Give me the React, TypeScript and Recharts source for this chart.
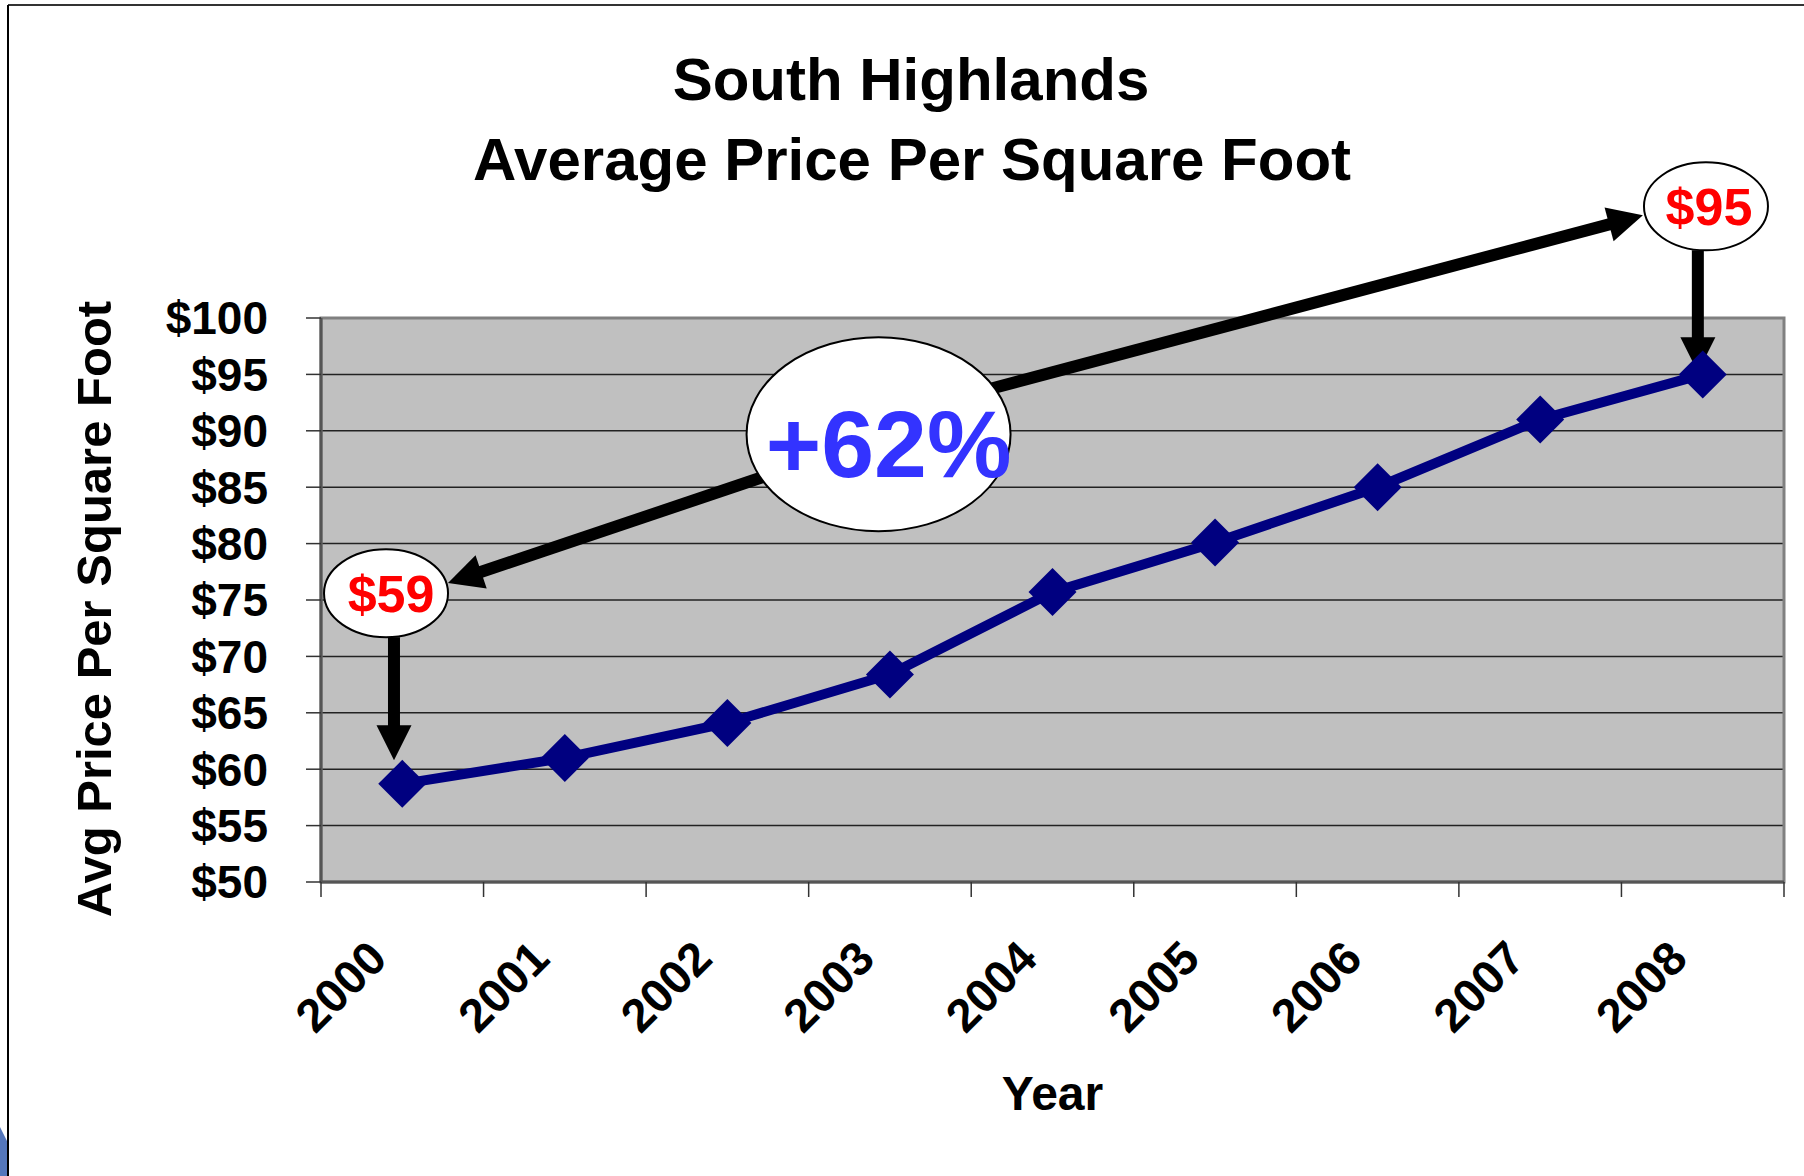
import React from "react";
import {
  LineChart,
  Line,
  XAxis,
  YAxis,
  CartesianGrid,
  ReferenceArea,
  ReferenceLine,
  ReferenceDot,
  Label,
} from "recharts";

const years = ["2000", "2001", "2002", "2003", "2004", "2005", "2006", "2007", "2008"];
const prices = [58.7, 61.0, 64.1, 68.4, 75.7, 80.1, 85.0, 91.0, 95.0];
const priceTicks = [50, 55, 60, 65, 70, 75, 80, 85, 90, 95, 100];

// callout bubbles, anchored in data space (x = year index, y = price)
const bubbleTexts = ["$59", "+62%", "$95"];
const bubbleAnchors = [
  { x: -0.1, y: 75.6 },
  { x: 2.93, y: 89.7 },
  { x: 8.02, y: 109.9 },
];

// arrows, also in data space
const arrowSegments = [
  [{ x: 2.26, y: 86.1 }, { x: 0.281, y: 76.5 }],
  [{ x: 3.585, y: 93.6 }, { x: 7.632, y: 109.1 }],
  [{ x: -0.051, y: 71.7 }, { x: -0.051, y: 60.8 }],
  [{ x: 7.97, y: 106.0 }, { x: 7.97, y: 95.2 }],
];

const rows = years.map((year, i) => ({ idx: i, year, price: prices[i] }));
const yearTicks = years.map((_, i) => i);
const boundaryTicks = [...years.map((_, i) => i - 0.5), years.length - 0.5];
const xDomain = [-0.5, years.length - 0.5];

const FONT = "'Liberation Sans', Arial, Helvetica, sans-serif";
const W = 1804;
const H = 1176;

const Diamond = (p: any) => {
  const { cx, cy, index } = p;
  if (cx == null || cy == null) return <g key={index} />;
  const r = 24;
  return (
    <polygon
      key={index}
      points={`${cx},${cy - r} ${cx + r},${cy} ${cx},${cy + r} ${cx - r},${cy}`}
      fill="#000080"
    />
  );
};

const Arrow = (p: any) => {
  const { x1, y1, x2, y2 } = p;
  const dx = x2 - x1;
  const dy = y2 - y1;
  const len = Math.hypot(dx, dy) || 1;
  const ux = dx / len;
  const uy = dy / len;
  const nx = -uy;
  const ny = ux;
  const headL = 35;
  const headW = 17.5;
  const bx = x2 - ux * headL;
  const by = y2 - uy * headL;
  return (
    <g>
      <line x1={x1} y1={y1} x2={bx + ux * 2} y2={by + uy * 2} stroke="#000" strokeWidth={12} />
      <polygon
        points={`${x2},${y2} ${bx + nx * headW},${by + ny * headW} ${bx - nx * headW},${by - ny * headW}`}
        fill="#000"
      />
    </g>
  );
};

const makeBubble = (text: string, rx: number, ry: number, size: number, color: string, dx: number, dy: number) =>
  (p: any) => {
    const { cx, cy } = p;
    return (
      <g>
        <ellipse cx={cx} cy={cy} rx={rx} ry={ry} fill="#fff" stroke="#000" strokeWidth={2} />
        <text
          x={cx + dx}
          y={cy + size * 0.36 + dy}
          textAnchor="middle"
          fontFamily={FONT}
          fontWeight="bold"
          fontSize={size}
          fill={color}
        >
          {text}
        </text>
      </g>
    );
  };

const bubbleShapes = [
  makeBubble(bubbleTexts[0], 62, 44, 52, "#FF0000", 5, 0),
  makeBubble(bubbleTexts[1], 132, 97, 95, "#3333FF", 10, 9),
  makeBubble(bubbleTexts[2], 62, 44, 52, "#FF0000", 3, 0),
];

const YearTick = (p: any) => {
  const { x, y, payload } = p;
  const tx = x - 13;
  const ty = y + 64;
  return (
    <text
      x={tx}
      y={ty}
      textAnchor="end"
      transform={`rotate(-45 ${tx} ${ty})`}
      fontFamily={FONT}
      fontWeight="bold"
      fontSize={47}
      fill="#000"
    >
      {years[payload.value]}
    </text>
  );
};

export default function App() {
  return (
    <div style={{ position: "absolute", left: 0, top: 0, width: W, height: H, background: "#fff", overflow: "hidden" }}>
      <svg width={W} height={H} style={{ position: "absolute", left: 0, top: 0 }}>
        <polygon points={`0,1127 8,1143 8,${H} 0,${H}`} fill="#5577bb" />
        <line x1={8} y1={5} x2={W} y2={5} stroke="#333" strokeWidth={2} />
        <line x1={8} y1={5} x2={8} y2={H} stroke="#000" strokeWidth={2} />
        <text x={911} y={100} textAnchor="middle" fontFamily={FONT} fontWeight="bold" fontSize={60}>
          South Highlands
        </text>
        <text x={912} y={180} textAnchor="middle" fontFamily={FONT} fontWeight="bold" fontSize={60}>
          Average Price Per Square Foot
        </text>
      </svg>
      <div style={{ position: "absolute", left: 0, top: 0 }}>
        <LineChart
          width={W}
          height={H}
          data={rows}
          margin={{ top: 318, right: 20, bottom: 79, left: 10 }}
        >
          <CartesianGrid
            xAxisId="years"
            vertical={false}
            fill="#C0C0C0"
            fillOpacity={1}
            stroke="#222"
            strokeWidth={1.5}
          />
          <ReferenceArea
            xAxisId="years"
            x1={xDomain[0]}
            x2={xDomain[1]}
            y1={50}
            y2={100}
            fill="none"
            stroke="#808080"
            strokeWidth={3}
          />
          <XAxis
            xAxisId="bounds"
            type="number"
            dataKey="idx"
            domain={xDomain}
            ticks={boundaryTicks}
            interval={0}
            height={15}
            tickSize={15}
            tickFormatter={() => ""}
            axisLine={{ stroke: "#555", strokeWidth: 3 }}
            tickLine={{ stroke: "#333", strokeWidth: 1.5 }}
          />
          <XAxis
            xAxisId="years"
            type="number"
            dataKey="idx"
            domain={xDomain}
            ticks={yearTicks}
            interval={0}
            height={200}
            tickSize={0}
            tickMargin={0}
            axisLine={false}
            tickLine={false}
            tick={<YearTick />}
          >
            <Label
              content={(p: any) => {
                const vb = p.viewBox;
                return (
                  <text
                    x={vb.x + vb.width / 2}
                    y={1110}
                    textAnchor="middle"
                    fontFamily={FONT}
                    fontWeight="bold"
                    fontSize={48}
                    fill="#000"
                  >
                    Year
                  </text>
                );
              }}
            />
          </XAxis>
          <YAxis
            type="number"
            domain={[50, 100]}
            ticks={priceTicks}
            interval={0}
            width={311}
            tickSize={15}
            tickMargin={38}
            tickFormatter={(v: number) => `$${v}`}
            tick={{ fontFamily: FONT, fontWeight: "bold", fontSize: 46, fill: "#000" }}
            axisLine={{ stroke: "#555", strokeWidth: 3 }}
            tickLine={{ stroke: "#333", strokeWidth: 1.5 }}
          >
            <Label
              content={(p: any) => {
                const vb = p.viewBox;
                const cx = vb.x + 84;
                const cy = vb.y + vb.height / 2 + 9;
                return (
                  <text
                    x={cx}
                    y={cy}
                    textAnchor="middle"
                    dominantBaseline="central"
                    transform={`rotate(-90 ${cx} ${cy})`}
                    fontFamily={FONT}
                    fontWeight="bold"
                    fontSize={49}
                    fill="#000"
                  >
                    Avg Price Per Square Foot
                  </text>
                );
              }}
            />
          </YAxis>
          <Line
            xAxisId="years"
            type="linear"
            dataKey="price"
            stroke="#000080"
            strokeWidth={10}
            dot={(p: any) => <Diamond key={p.index} {...p} />}
            activeDot={false}
            isAnimationActive={false}
          />
          {arrowSegments.map((seg, i) => (
            <ReferenceLine
              key={`arrow-${i}`}
              xAxisId="years"
              segment={seg}
              ifOverflow="visible"
              shape={Arrow}
            />
          ))}
          {bubbleAnchors.map((a, i) => (
            <ReferenceDot
              key={`bubble-${i}`}
              xAxisId="years"
              x={a.x}
              y={a.y}
              ifOverflow="visible"
              shape={bubbleShapes[i]}
            />
          ))}
        </LineChart>
      </div>
    </div>
  );
}
